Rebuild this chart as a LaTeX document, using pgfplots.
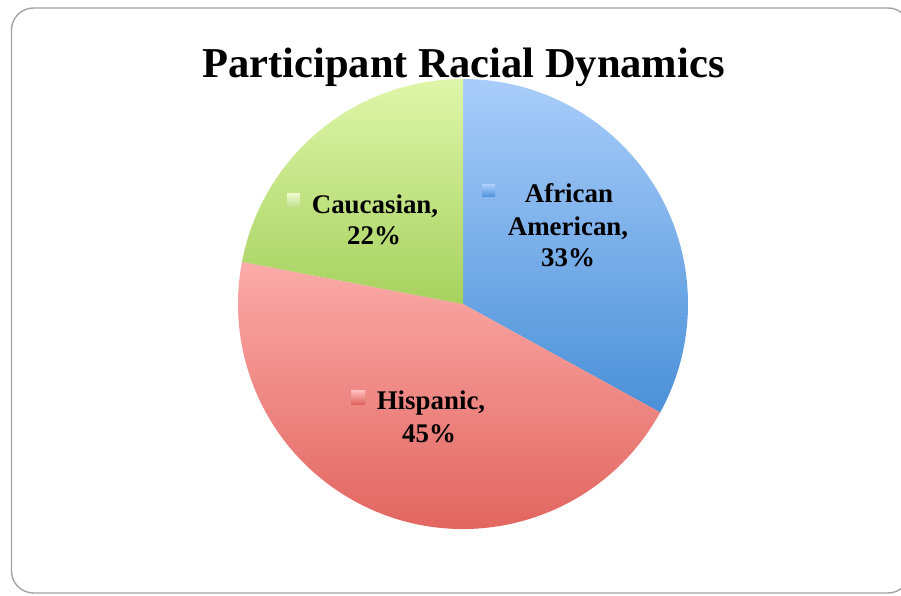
\documentclass[border=0pt]{standalone}
\usepackage{pgfplots}
\pgfplotsset{compat=1.18}
\usepackage{pgfplotstable}
\usepackage{fontspec}
\setmainfont{Liberation Serif}

\definecolor{blueTop}{HTML}{A9CDFA}
\definecolor{blueBot}{HTML}{4A90D8}
\definecolor{redTop}{HTML}{FBABA8}
\definecolor{redBot}{HTML}{DF5D57}
\definecolor{greenTop}{HTML}{DFF6AA}
\definecolor{greenBot}{HTML}{A6D15E}
\definecolor{frameGray}{HTML}{A3A3A3}

% share of each group, in percent
\pgfplotstableread{
label value
AfricanAmerican 33
Hispanic 45
Caucasian 22
}\piedata

\begin{document}
\begin{tikzpicture}
\pgfplotstablegetelem{0}{value}\of\piedata \let\vA\pgfplotsretval
\pgfplotstablegetelem{1}{value}\of\piedata \let\vB\pgfplotsretval
\pgfplotstablegetelem{2}{value}\of\piedata \let\vC\pgfplotsretval
\pgfmathsetmacro{\aA}{90}
\pgfmathsetmacro{\aB}{90-3.6*\vA}
\pgfmathsetmacro{\aC}{\aB-3.6*\vB}
\pgfmathsetmacro{\aD}{\aC-3.6*\vC}
\path[use as bounding box] (0,0) rectangle (901bp,596bp);
\begin{axis}[
  x=1bp, y=1bp, scale only axis,
  xmin=0, xmax=901, ymin=0, ymax=596,
  hide axis, clip=true,
]
% frame
\draw[frameGray, line width=1.4bp, rounded corners=22bp]
  (axis cs:11.5,3) rectangle (axis cs:910,588);
% slices
\shade[top color=blueTop, bottom color=blueBot]
  (axis cs:463,292) -- ++(\aA:225bp) arc[start angle=\aA, end angle=\aB, radius=225bp] -- cycle;
\shade[top color=redTop, bottom color=redBot]
  (axis cs:463,292) -- ++(\aB:225bp) arc[start angle=\aB, end angle=\aC, radius=225bp] -- cycle;
\shade[top color=greenTop, bottom color=greenBot]
  (axis cs:463,292) -- ++(\aC:225bp) arc[start angle=\aC, end angle=\aD, radius=225bp] -- cycle;
% title
\node[anchor=base, font=\fontsize{42.7}{48}\selectfont\bfseries] at (axis cs:463.5,518) {Participant Racial Dynamics};
% legend keys
\shade[top color=greenTop!60!white, bottom color=greenBot!70!white] (axis cs:287,389) rectangle (axis cs:300,402);
\shade[top color=blueTop, bottom color=blueBot] (axis cs:482,399) rectangle (axis cs:495,411);
\shade[top color=redTop!80!white, bottom color=redBot] (axis cs:351,191) rectangle (axis cs:365,205);
% labels
\begin{scope}[every node/.style={anchor=base, font=\fontsize{27}{31}\selectfont\bfseries, inner sep=0pt}]
\node at (axis cs:375,383) {Caucasian,};
\node at (axis cs:374,352) {22\%};
\node at (axis cs:569,393) {African};
\node at (axis cs:568,361) {American,};
\node at (axis cs:568,330) {33\%};
\node at (axis cs:431,187) {Hispanic,};
\node at (axis cs:429,154) {45\%};
\end{scope}
\end{axis}
\end{tikzpicture}
\end{document}
